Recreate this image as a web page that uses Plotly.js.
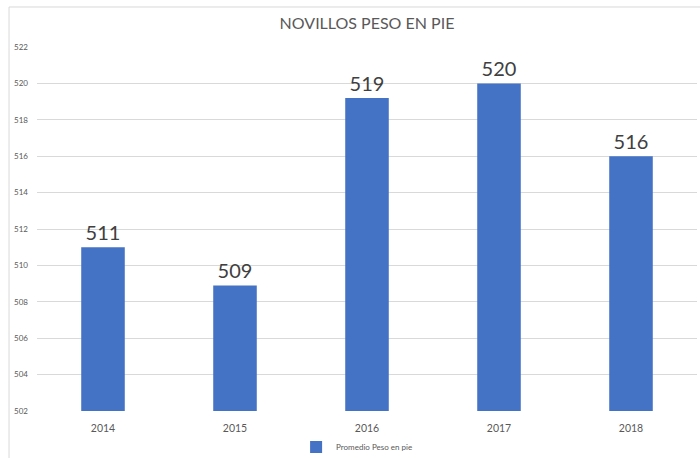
<!DOCTYPE html>
<html>
<head>
<meta charset="utf-8">
<script src="https://cdn.plot.ly/plotly-3.0.1.min.js"></script>
<style>html,body{margin:0;padding:0;background:#fff;}#chart{width:700px;height:458px;}</style>
</head>
<body>
<div id="chart"></div>
<script>
const years = ['2014', '2015', '2016', '2017', '2018'];
const pesoPromedio = [511, 508.9, 519.2, 520, 516];
const seriesName = 'Promedio Peso en pie';
const chartTitle = 'NOVILLOS PESO EN PIE';
const yTicks = [502, 504, 506, 508, 510, 512, 514, 516, 518, 520, 522];

const trace = {
  type: 'bar',
  x: years,
  y: pesoPromedio,
  name: seriesName,
  marker: {color: '#4472C4'},
  width: 0.33,
  texttemplate: '%{y:.0f}',
  textposition: 'outside',
  textfont: {family: 'Lato, sans-serif', size: 20, color: '#404040'},
  cliponaxis: false,
  hoverinfo: 'x+y',
  showlegend: true
};

const layout = {
  width: 700,
  height: 458,
  margin: {l: 37, r: 3, t: 47, b: 47, autoexpand: false},
  paper_bgcolor: '#ffffff',
  plot_bgcolor: '#ffffff',
  font: {family: 'Lato, sans-serif', color: '#595959'},
  title: {
    text: chartTitle,
    font: {family: 'Lato, sans-serif', size: 16, color: '#595959'},
    x: 0.5, xref: 'paper', xanchor: 'center',
    y: 28, yref: 'container', yanchor: 'middle'
  },
  bargap: 0.67,
  xaxis: {
    type: 'category',
    tickfont: {size: 10.5, color: '#595959'},
    showgrid: false,
    showline: false,
    ticks: '',
    ticklabelstandoff: 9
  },
  yaxis: {
    range: [502, 522],
    tickvals: yTicks,
    ticktext: yTicks.map(String),
    tickfont: {size: 8, color: '#595959'},
    showgrid: true,
    gridcolor: '#d9d9d9',
    gridwidth: 1,
    zeroline: false,
    showline: false,
    ticks: '',
    ticklabelstandoff: 8
  },
  showlegend: true,
  legend: {
    orientation: 'h',
    x: 0.485, xanchor: 'center',
    yref: 'container',
    y: 0.024, yanchor: 'middle',
    font: {size: 8, color: '#595959'},
    itemwidth: 30
  },
  shapes: [{
    type: 'rect', xref: 'paper', yref: 'paper',
    x0: -0.0424, x1: 1.2, y0: -0.3, y1: 1.1099,
    line: {color: '#d9d9d9', width: 1},
    fillcolor: 'rgba(0,0,0,0)',
    layer: 'below'
  }]
};

Plotly.newPlot('chart', [trace], layout, {displayModeBar: false, staticPlot: true});
</script>
</body>
</html>
